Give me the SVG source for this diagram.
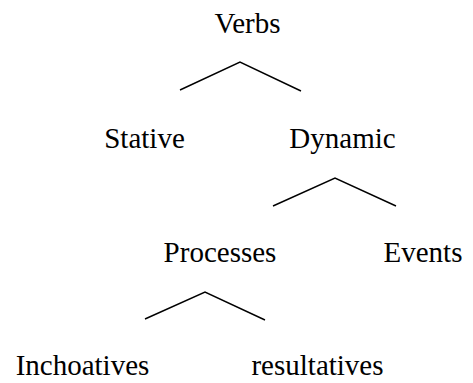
<svg xmlns="http://www.w3.org/2000/svg" width="473" height="383" viewBox="0 0 473 383">
<style>
text{font-family:"Liberation Serif","Times New Roman",serif;font-size:29px;fill:#000;text-anchor:middle}
.e{fill:none;stroke:#000;stroke-width:1.4}
</style>
<rect width="473" height="383" fill="#fff"/>
<g id="verbs"><text x="247.5" y="33">Verbs</text></g>
<g id="stative"><text x="144.5" y="148">Stative</text></g>
<g id="dynamic"><text x="342.5" y="148">Dynamic</text></g>
<g id="processes"><text x="220" y="262">Processes</text></g>
<g id="events"><text x="423" y="262">Events</text></g>
<g id="inchoatives"><text x="82.5" y="375">Inchoatives</text></g>
<g id="resultatives"><text x="317.5" y="375">resultatives</text></g>
<g id="connectors">
<polyline class="e" points="180,90 240,62 301,91"/>
<polyline class="e" points="273,206 335,178 396,206"/>
<polyline class="e" points="145,319 205,292 265,320"/>
</g>
</svg>
